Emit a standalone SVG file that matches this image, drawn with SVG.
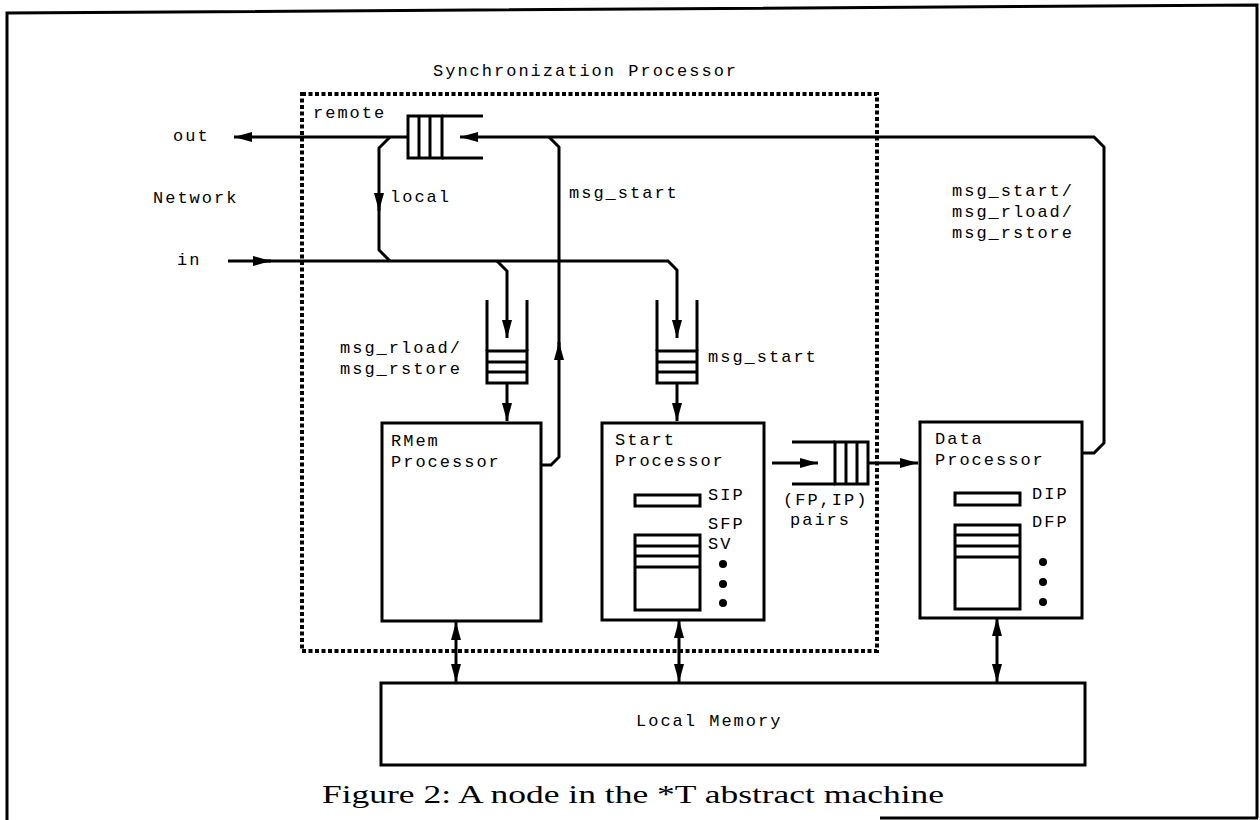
<svg xmlns="http://www.w3.org/2000/svg" width="1260" height="820" viewBox="0 0 1260 820">
<style>
  .t { font-family: "Liberation Mono", "DejaVu Sans Mono", monospace; font-size: 17px; letter-spacing: 2px; fill: #000; }
  .cap { font-family: "Liberation Serif", "DejaVu Serif", serif; font-size: 25px; fill: #000; }
  .box { fill: #fff; stroke: #000; stroke-width: 3; }
  .ln { fill: none; stroke: #000; stroke-width: 3; }
  .dot { fill: none; stroke: #000; stroke-width: 4; stroke-dasharray: 4 2.5; }
</style>
<defs>
  <marker id="ah" viewBox="0 0 18 10" refX="18" refY="5" markerWidth="18" markerHeight="10" markerUnits="userSpaceOnUse" orient="auto-start-reverse">
    <path d="M0,0 L18,5 L0,10 z" fill="#000"/>
  </marker>
</defs>
<rect width="1260" height="820" fill="#fff"/>

<g id="frame">
  <polyline class="ln" points="7,820 7,13 1257,5 1257,818"/>
  <line class="ln" x1="880" y1="818" x2="1258" y2="818"/>
</g>

<g id="sync-processor">
  <rect class="dot" x="302" y="94" width="575" height="557"/>
  <text class="t" x="433" y="76">Synchronization Processor</text>
</g>

<g id="connectors">
  <path class="ln" d="M408,137 L234,137" marker-end="url(#ah)"/>
  <path class="ln" d="M1082,453 L1094,453 L1104,443 L1104,147 L1094,137 L460,137" marker-end="url(#ah)"/>
  <path class="ln" d="M390,137 L379,148 L379,211" marker-end="url(#ah)"/>
  <path class="ln" d="M379,200 L379,250 L390,261"/>
  <path class="ln" d="M228,261 L271,261" marker-end="url(#ah)"/>
  <path class="ln" d="M262,261 L668,261 L677,270 L677,338" marker-end="url(#ah)"/>
  <path class="ln" d="M497,261 L507,271 L507,338" marker-end="url(#ah)"/>
  <path class="ln" d="M507,383 L507,421" marker-end="url(#ah)"/>
  <path class="ln" d="M677,383 L677,421" marker-end="url(#ah)"/>
  <path class="ln" d="M541,465 L551,465 L559,457 L559,342" marker-end="url(#ah)"/>
  <path class="ln" d="M559,352 L559,147 L549,137"/>
  <path class="ln" d="M772,463 L818,463" marker-end="url(#ah)"/>
  <path class="ln" d="M868,463 L918,463" marker-end="url(#ah)"/>
  <path class="ln" d="M456,622 L456,682" marker-start="url(#ah)" marker-end="url(#ah)"/>
  <path class="ln" d="M679,620 L679,682" marker-start="url(#ah)" marker-end="url(#ah)"/>
  <path class="ln" d="M997,618 L997,682" marker-start="url(#ah)" marker-end="url(#ah)"/>
</g>

<g id="remote-queue">
  <rect class="box" x="408" y="116" width="34" height="42"/>
  <line class="ln" x1="419" y1="116" x2="419" y2="158"/>
  <line class="ln" x1="430" y1="116" x2="430" y2="158"/>
  <line class="ln" x1="442" y1="116" x2="483" y2="116"/>
  <line class="ln" x1="442" y1="158" x2="483" y2="158"/>
</g>

<g id="rmem-queue">
  <rect class="box" x="487" y="351" width="40" height="32"/>
  <line class="ln" x1="487" y1="362" x2="527" y2="362"/>
  <line class="ln" x1="487" y1="372" x2="527" y2="372"/>
  <line class="ln" x1="487" y1="300" x2="487" y2="351"/>
  <line class="ln" x1="527" y1="300" x2="527" y2="351"/>
</g>

<g id="start-queue">
  <rect class="box" x="657" y="351" width="40" height="32"/>
  <line class="ln" x1="657" y1="362" x2="697" y2="362"/>
  <line class="ln" x1="657" y1="372" x2="697" y2="372"/>
  <line class="ln" x1="657" y1="300" x2="657" y2="351"/>
  <line class="ln" x1="697" y1="300" x2="697" y2="351"/>
</g>

<g id="pairs-queue">
  <rect class="box" x="835" y="442" width="33" height="42"/>
  <line class="ln" x1="846" y1="442" x2="846" y2="484"/>
  <line class="ln" x1="857" y1="442" x2="857" y2="484"/>
  <line class="ln" x1="792" y1="442" x2="835" y2="442"/>
  <line class="ln" x1="792" y1="484" x2="835" y2="484"/>
</g>

<g id="labels">
  <text class="t" x="313" y="118">remote</text>
  <text class="t" x="173" y="141">out</text>
  <text class="t" x="153" y="203">Network</text>
  <text class="t" x="390" y="202">local</text>
  <text class="t" x="177" y="265">in</text>
  <text class="t" x="569" y="198">msg_start</text>
  <text class="t" x="952" y="196">msg_start/</text>
  <text class="t" x="952" y="217">msg_rload/</text>
  <text class="t" x="952" y="238">msg_rstore</text>
  <text class="t" x="340" y="353">msg_rload/</text>
  <text class="t" x="340" y="374">msg_rstore</text>
  <text class="t" x="708" y="362">msg_start</text>
  <text class="t" x="783" y="505">(FP,IP)</text>
  <text class="t" x="790" y="525">pairs</text>
</g>

<g id="rmem-processor">
  <rect class="box" x="382" y="423" width="159" height="198"/>
  <text class="t" x="391" y="446">RMem</text>
  <text class="t" x="391" y="467">Processor</text>
</g>

<g id="start-processor">
  <rect class="box" x="602" y="423" width="162" height="197"/>
  <text class="t" x="615" y="445">Start</text>
  <text class="t" x="615" y="466">Processor</text>
  <rect class="box" x="635" y="495" width="65" height="11"/>
  <text class="t" x="708" y="500">SIP</text>
  <text class="t" x="708" y="529">SFP</text>
  <text class="t" x="708" y="549">SV</text>
  <rect class="box" x="635" y="535" width="65" height="75"/>
  <line class="ln" x1="635" y1="546" x2="700" y2="546"/>
  <line class="ln" x1="635" y1="556" x2="700" y2="556"/>
  <line class="ln" x1="635" y1="567" x2="700" y2="567"/>
  <circle cx="723" cy="564" r="4"/>
  <circle cx="723" cy="584" r="4"/>
  <circle cx="723" cy="603" r="4"/>
</g>

<g id="data-processor">
  <rect class="box" x="920" y="422" width="162" height="196"/>
  <text class="t" x="935" y="444">Data</text>
  <text class="t" x="935" y="465">Processor</text>
  <rect class="box" x="955" y="493" width="65" height="12"/>
  <text class="t" x="1032" y="499">DIP</text>
  <text class="t" x="1032" y="527">DFP</text>
  <rect class="box" x="955" y="525" width="65" height="84"/>
  <line class="ln" x1="955" y1="535" x2="1020" y2="535"/>
  <line class="ln" x1="955" y1="546" x2="1020" y2="546"/>
  <line class="ln" x1="955" y1="557" x2="1020" y2="557"/>
  <circle cx="1043" cy="562" r="4"/>
  <circle cx="1043" cy="582" r="4"/>
  <circle cx="1043" cy="602" r="4"/>
</g>

<g id="local-memory">
  <rect class="box" x="381" y="683" width="704" height="82"/>
  <text class="t" x="636" y="726">Local Memory</text>
</g>

<g id="caption">
  <text class="cap" x="322" y="803" textLength="622" lengthAdjust="spacingAndGlyphs">Figure 2: A node in the *T abstract machine</text>
</g>
</svg>
